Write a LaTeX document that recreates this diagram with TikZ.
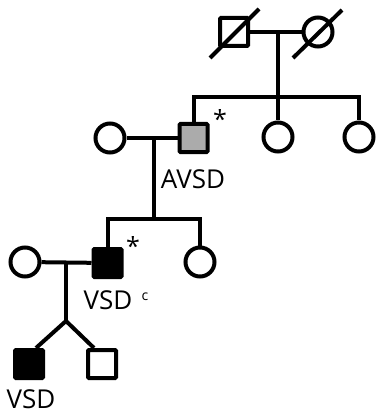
\documentclass[tikz,border=0pt]{standalone}
\usepackage{fontspec}
\setmainfont{Open Sans}
\usetikzlibrary{calc}
\begin{document}
\begin{tikzpicture}[x=1pt,y=-1pt,line width=4pt,
  male/.style={draw,rectangle,minimum size=28pt,inner sep=0pt,rounded corners=1pt},
  female/.style={draw,circle,minimum size=29pt,inner sep=0pt},
  aff/.style={fill=black},
  carrier/.style={fill=black!33},
  lbl/.style={font=\fontsize{26}{28}\selectfont,inner sep=0pt,anchor=base},
  starlbl/.style={font=\fontsize{25}{27}\selectfont,inner sep=0pt},
  suplbl/.style={font=\fontsize{14}{16}\selectfont,inner sep=0pt},
  deadline/.style={line width=4pt}]
\useasboundingbox (0,0) rectangle (379,414);
% generation I
\node[male] (I1) at (234,32) {};
\node[female] (I2) at (318,32) {};
\draw[deadline] ($(I1)+(-24,26)$) -- ($(I1)+(25,-23)$);
\draw[deadline] ($(I2)+(-25,26)$) -- ($(I2)+(24,-22)$);
\draw (I1) -- (I2);
\coordinate (m1) at (278,32);
\coordinate (sib2) at (278,97);
\draw (m1) -- (sib2);
% generation II
\node[female] (II1) at (110,138) {};
\node[male,carrier] (II2) at (193.5,138) {};
\node[female] (II3) at (278,137) {};
\node[female] (II4) at (359,137) {};
\draw (II2.north) |- (sib2) -| (II4.north);
\draw (sib2) -- (II3.north);
\draw (II1) -- (II2);
\node[starlbl] (st1) at (220,119) {*};
\node[lbl] (l1) at (193,188) {AVSD};
\coordinate (m2) at (154,138);
\coordinate (sib3) at (154,219);
\draw (m2) -- (sib3);
% generation III
\node[female] (III1) at (25,262) {};
\node[male,aff] (III2) at (107.5,263) {};
\node[female] (III3) at (200,262) {};
\draw (III2.north) |- (sib3) -| (III3.north);
\draw (III1) -- (III2);
\node[starlbl] (st2) at (133,246) {*};
\node[lbl] (l2) at (108,309) {VSD};
\node[suplbl] (l2c) at (145,297) {c};
\coordinate (m3) at (66,262);
\coordinate (tw) at (66,321);
\draw (m3) -- (tw);
% generation IV
\node[male,aff] (IV1) at (29,364) {};
\node[male] (IV2) at (102,364) {};
\draw (tw) -- ($(IV1.north)+(7,0)$);
\draw (tw) -- ($(IV2.north)+(-8,0)$);
\node[lbl] (l3) at (31,408) {VSD};
\end{tikzpicture}
\end{document}
